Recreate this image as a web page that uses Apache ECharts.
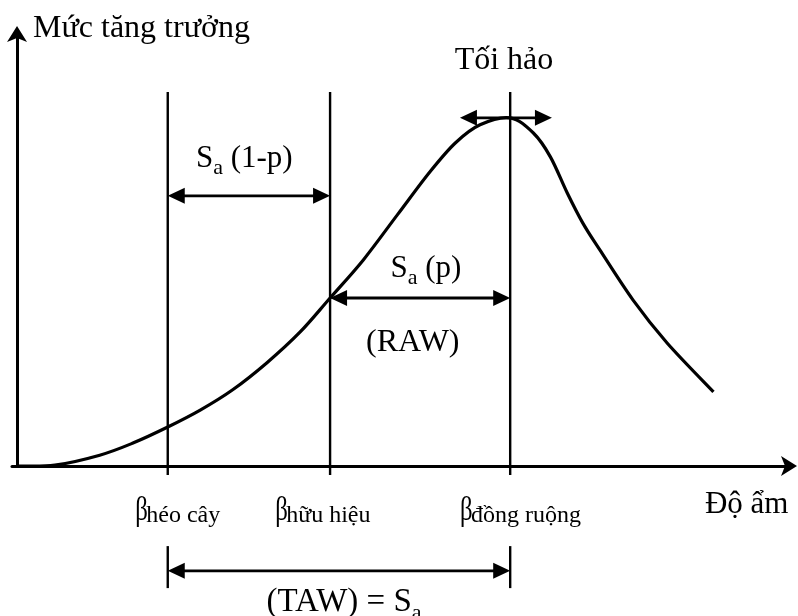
<!DOCTYPE html>
<html><head><meta charset="utf-8">
<script src="https://cdn.jsdelivr.net/npm/echarts@6/dist/echarts.min.js"></script>
<style>html,body{margin:0;padding:0;background:#fff}#c{width:798px;height:616px}</style>
</head><body><div id="c"></div>
<script>
// Growth curve (moisture -> growth)
const moisture = [0, 4.9, 10.7, 15.0, 19.5, 23.7, 27.9, 32.3, 36.6, 40.5, 44.8, 49.2, 53.4, 56.7, 59.9, 63.8, 66.8, 69.0, 71.2, 73.2, 75.4, 79.7, 84.1, 90.1];
const growth   = [0, 0.2, 2.5, 5.3, 9.0, 12.9, 17.6, 23.8, 30.9, 38.8, 47.6, 58.0, 67.9, 74.6, 78.8, 80.4, 76.9, 71.4, 63.0, 56.1, 49.9, 38.3, 28.4, 17.1];

// Threshold moistures: wilting point, readily available, field capacity
const thresholds = [19.5, 40.5, 63.8];
const thresholdTop = 86.4;
const thresholdBottom = -2.1;

// Double arrows: [fromX, toX, level]
const arrowSa1p = [19.5, 40.5, 62.4];
const arrowSap = [40.5, 63.8, 38.8];
const arrowOpt = [57.3, 69.2, 80.4];
const arrowTaw = [19.5, 63.8, -24.2];
const tawBar = [-18.5, -28.2];

// Texts
const yTitle = 'Mức tăng trưởng';
const xTitle = 'Độ ẩm';
const optLabel = 'Tối hảo';
const rawLabel = '(RAW)';
const beta = 'β';
const thresholdNames = ['héo cây', 'hữu hiệu', 'đồng ruộng'];

const FONT = '"Liberation Serif","Times New Roman",serif';
const chart = echarts.init(document.getElementById('c'), null, {renderer: 'canvas'});

function head(tip, from, L, W) {
  const dx = tip[0] - from[0], dy = tip[1] - from[1];
  const len = Math.hypot(dx, dy) || 1; const ux = dx / len, uy = dy / len;
  const bx = tip[0] - ux * L, by = tip[1] - uy * L;
  return {type: 'polygon', shape: {points: [tip, [bx - uy * W, by + ux * W], [bx + uy * W, by - ux * W]]}, style: {fill: '#000'}};
}
function dbl(api, a) {
  const p1 = api.coord([a[0], a[2]]), p2 = api.coord([a[1], a[2]]);
  const L = 17, W = 8;
  return [
    {type: 'line', shape: {x1: p1[0] + L - 3, y1: p1[1], x2: p2[0] - L + 3, y2: p2[1]}, style: {stroke: '#000', lineWidth: 2.8}},
    head(p1, p2, L, W), head(p2, p1, L, W)
  ];
}

const rich = {
  m: {fontFamily: FONT, fontSize: 31, fill: '#000', verticalAlign: 'bottom', padding: [0, 0, 5, 0]},
  t: {fontFamily: FONT, fontSize: 33, fill: '#000', verticalAlign: 'bottom', padding: [0, 0, 5, 0]},
  s: {fontFamily: FONT, fontSize: 22, fill: '#000', verticalAlign: 'bottom'}
};

function txt(api, x, y, text, align, size, sx, dx) {
  const p = api.coord([x, y]);
  return {type: 'text', x: p[0] + (dx || 0), y: p[1], scaleX: sx || 1,
    style: {text: text, rich: rich, fontFamily: FONT, fontSize: size || 31, fill: '#000', align: align || 'center', verticalAlign: 'middle'}};
}

// smooth curve through the data points (converted by the axes' scales)
function curvePath(api) {
  const P = moisture.map(function (x, i) { return api.coord([x, growth[i]]); });
  let d = 'M' + P[0][0] + ' ' + P[0][1];
  for (let i = 0; i < P.length - 1; i++) {
    const p0 = P[Math.max(i - 1, 0)], p1 = P[i], p2 = P[i + 1], p3 = P[Math.min(i + 2, P.length - 1)];
    const c1 = [p1[0] + (p2[0] - p0[0]) / 6, p1[1] + (p2[1] - p0[1]) / 6];
    const c2 = [p2[0] - (p3[0] - p1[0]) / 6, p2[1] - (p3[1] - p1[1]) / 6];
    d += ' C' + c1[0] + ' ' + c1[1] + ' ' + c2[0] + ' ' + c2[1] + ' ' + p2[0] + ' ' + p2[1];
  }
  return {type: 'path', shape: {pathData: d}, style: {stroke: '#000', fill: null, lineWidth: 3.2, lineJoin: 'round'}, z2: 10};
}

const option = {
  animation: false,
  backgroundColor: '#fff',
  grid: {left: 12, right: 8, top: 33, bottom: 150},
  xAxis: {type: 'value', min: -0.65, max: 100, splitLine: {show: false}, axisTick: {show: false}, axisLabel: {show: false},
    axisLine: {show: true, symbol: ['none', 'arrow'], symbolSize: [15, 16], symbolOffset: [0, 7], lineStyle: {color: '#000', width: 3}}},
  yAxis: {type: 'value', min: 0, max: 100, splitLine: {show: false}, axisTick: {show: false}, axisLabel: {show: false},
    axisLine: {show: true, onZero: true, symbol: ['none', 'arrow'], symbolSize: [15, 16], symbolOffset: [0, 7], lineStyle: {color: '#000', width: 3}}},
  series: [
    {type: 'custom', clip: false, data: [0], z: 2, renderItem: function (params, api) {
      const ch = [];
      thresholds.forEach(function (t) {
        const a = api.coord([t, thresholdTop]), b = api.coord([t, thresholdBottom]);
        ch.push({type: 'line', shape: {x1: a[0], y1: a[1], x2: b[0], y2: b[1]}, style: {stroke: '#000', lineWidth: 2.4}});
      });
      ch.push(curvePath(api));
      [arrowSa1p, arrowSap, arrowOpt, arrowTaw].forEach(function (a) { ch.push.apply(ch, dbl(api, a)); });
      [arrowTaw[0], arrowTaw[1]].forEach(function (x) {
        const a = api.coord([x, tawBar[0]]), b = api.coord([x, tawBar[1]]);
        ch.push({type: 'line', shape: {x1: a[0], y1: a[1], x2: b[0], y2: b[1]}, style: {stroke: '#000', lineWidth: 2.4}});
      });
      // texts
      ch.push(txt(api, 2.07, 101.1, yTitle, 'left', 32));
      ch.push(txt(api, 63.0, 93.6, optLabel, 'center', 32));
      ch.push(txt(api, 29.4, 70.4, '{m|S}{s|a}{m| (1-p)}'));
      ch.push(txt(api, 52.9, 45.0, '{m|S}{s|a}{m| (p)}'));
      ch.push(txt(api, 51.2, 28.6, rawLabel, 'center', 32));
      ch.push(txt(api, 89.0, -9.0, xTitle, 'left', 31));
      const bx = [15.3, 33.4, 57.3];
      thresholdNames.forEach(function (n, i) {
        ch.push(txt(api, bx[i], -10.5, beta, 'left', 33, 0.75));
        ch.push(txt(api, bx[i], -11.5, n, 'left', 24, 1, 11));
      });
      ch.push(txt(api, 42.3, -32.1, '{t|(TAW) = S}{s|a}'));
      return {type: 'group', children: ch};
    }}
  ]
};
chart.setOption(option);
</script></body></html>
